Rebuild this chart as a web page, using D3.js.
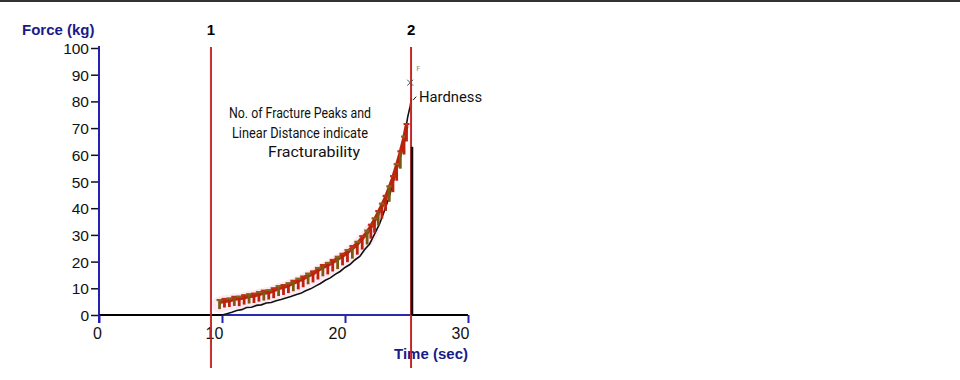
<!DOCTYPE html>
<html>
<head>
  <meta charset="utf-8">
  <script src="https://cdn.jsdelivr.net/npm/d3@7"></script>
  <style>
body { margin: 0; background: #fff; }
svg { display: block; }
.tick-label { font: 15.5px "Liberation Sans", Arial, sans-serif; fill: #111; }
.axis-title { font: bold 15px "Liberation Sans", Arial, sans-serif; fill: #1a1a8a; }
.marker-label { font: bold 15px "Liberation Sans", Arial, sans-serif; fill: #000; }
.note { font: 15px Roboto, Lato, sans-serif; fill: #111; }
  </style>
</head>
<body>
<svg width="960" height="380"></svg>
<script>

// force trace (black line)
const curveTime  = [10.0,10.4,10.8,11.2,11.6,12.0,12.4,12.8,13.2,13.6,14.0,14.4,14.8,15.2,15.6,16.0,16.4,16.8,17.2,17.6,18.0,18.4,18.8,19.2,19.6,20.0,20.4,20.8,21.2,21.6,22.0,22.4,22.8,23.2,23.6,24.0,24.3,24.6,24.9,25.1,25.3,25.4];
const curveForce = [0,0.5,1.0,1.7,2.0,2.8,2.9,3.6,3.8,4.5,4.7,5.3,5.8,6.4,6.9,7.6,8.1,9.1,9.8,10.8,11.8,13.0,13.9,15.2,16.3,17.8,18.9,20.6,21.9,24.5,26.6,30.3,34.0,39.0,44.3,51.3,56.2,62.7,68.7,74.2,78.2,81.0];

// fracture peaks (top of each peak and the force it drops to)
const peakTime  = [9.8,10.2,10.6,11.0,11.4,11.8,12.2,12.6,13.0,13.4,13.8,14.2,14.6,15.0,15.4,15.8,16.2,16.6,17.0,17.4,17.8,18.2,18.6,19.0,19.4,19.8,20.2,20.6,21.0,21.4,21.8,22.1,22.4,22.7,23.0,23.3,23.6,23.9,24.2,24.5,24.8,25.0];
const peakForce = [5.6,6.0,6.2,6.8,6.9,7.4,7.8,8.0,8.6,9.1,9.3,10.0,10.8,11.2,11.9,12.8,13.6,14.4,15.5,16.3,17.6,18.7,19.5,20.6,21.8,22.9,24.3,25.8,27.4,29.5,31.6,33.8,36.2,38.9,41.7,44.6,48.2,52.0,56.5,61.3,66.8,71.5];
const peakLow   = [2.2,2.8,3.0,3.4,3.3,3.9,4.3,4.5,5.0,5.4,5.8,6.3,7.1,7.5,8.2,8.9,9.6,10.4,11.5,12.2,13.3,14.5,15.2,16.3,17.2,18.6,19.8,21.1,22.6,24.5,26.4,28.6,30.8,33.5,36.1,39.0,42.4,46.0,50.3,54.8,60.1,65.0];

// drop after the hardness peak
const dropTime  = [25.45, 25.45];
const dropForce = [63, 0];

// hardness peak
const hardTime = 25.3, hardForce = 87;

// vertical markers
const markerTime  = [9.1, 25.37];
const markerLabel = ["1", "2"];

const xTicks = [0, 10, 20, 30];
const yTicks = [0, 10, 20, 30, 40, 50, 60, 70, 80, 90, 100];

const noteLines = ["No. of Fracture Peaks and", "Linear Distance indicate", "Fracturability"];

var svg = d3.select("svg");

var x = d3.scaleLinear().domain([0, 30]).range([99, 468]);
var y = d3.scaleLinear().domain([0, 100]).range([315, 48]);

// top border
svg.append("rect").attr("x", 0).attr("y", 0).attr("width", 960).attr("height", 2).attr("fill", "#333");

// y axis
var yAxis = svg.append("g")
  .attr("transform", "translate(99,0)")
  .call(d3.axisLeft(y).tickValues(yTicks).tickSize(8).tickPadding(2));
yAxis.select(".domain").remove();
yAxis.selectAll(".tick line").attr("stroke", "#111").attr("stroke-width", 1.5);
yAxis.selectAll(".tick text").attr("class", "tick-label").attr("dy", "0.36em");
svg.append("line")
  .attr("x1", 99).attr("x2", 99).attr("y1", 46).attr("y2", 323)
  .attr("stroke", "#2222b0").attr("stroke-width", 2);

// x axis
svg.append("line")
  .attr("x1", x(0)).attr("x2", x(30)).attr("y1", y(0)).attr("y2", y(0))
  .attr("stroke", "#000").attr("stroke-width", 2);
svg.append("line")
  .attr("x1", x(10)).attr("x2", x(markerTime[1])).attr("y1", y(0)).attr("y2", y(0))
  .attr("stroke", "#2a2ab0").attr("stroke-width", 2);
var xAxis = svg.append("g")
  .attr("transform", "translate(0," + y(0) + ")")
  .call(d3.axisBottom(x).tickValues(xTicks).tickSize(8).tickPadding(5));
xAxis.select(".domain").remove();
xAxis.selectAll(".tick line").attr("stroke", "#2222b0").attr("stroke-width", 2);
xAxis.selectAll(".tick text")
  .attr("class", "tick-label")
  .attr("dx", d => d === 0 ? -2 : -8)
  .style("font-size", "16px");

// axis titles
svg.append("text").attr("class", "axis-title").attr("x", 22).attr("y", 35).text("Force (kg)");
svg.append("text").attr("class", "axis-title").attr("x", 468).attr("y", 359)
  .attr("text-anchor", "end").text("Time (sec)");

// pink haze behind the fracture band
var peakPts = peakTime.map((t, i) => [t, peakForce[i], peakLow[i]]);
svg.append("path")
  .datum(peakPts.slice(0, 32))
  .attr("fill", "none")
  .attr("stroke", "#fbdcee")
  .attr("stroke-width", 16)
  .attr("stroke-linecap", "round")
  .attr("opacity", 0.6)
  .attr("d", d3.line().x(d => x(d[0])).y(d => y((d[1] + d[2]) / 2)));

// black force trace
var curvePts = curveTime.map((t, i) => [t, curveForce[i]]);
svg.append("path")
  .datum(curvePts)
  .attr("fill", "none")
  .attr("stroke", "#111")
  .attr("stroke-width", 1.6)
  .attr("d", d3.line().x(d => x(d[0])).y(d => y(d[1])));

// fracture peak band
svg.append("path")
  .datum(peakPts)
  .attr("fill", "none")
  .attr("stroke", "#b8260f")
  .attr("stroke-width", 4)
  .attr("d", d3.line().x(d => x(d[0])).y(d => y(d[1]) + 2));

var spikes = svg.append("g").selectAll("g")
  .data(peakPts)
  .enter().append("g");
spikes.append("line")
  .attr("x1", d => x(d[0])).attr("x2", d => x(d[0]))
  .attr("y1", d => y(d[1])).attr("y2", d => y(d[2]))
  .attr("stroke", (d, i) => i % 3 === 0 ? "#7a5a12" : "#b8230e")
  .attr("stroke-width", 2.8);
spikes.append("line")
  .attr("x1", d => x(d[0]) - 3).attr("x2", d => x(d[0]) + 3)
  .attr("y1", d => y(d[1])).attr("y2", d => y(d[1]))
  .attr("stroke", (d, i) => i % 2 === 0 ? "#85651a" : "#c0300f")
  .attr("stroke-width", 2.2);

// vertical markers
markerTime.forEach((t, i) => {
  svg.append("line")
    .attr("x1", x(t) - 0.5).attr("x2", x(t) - 0.5).attr("y1", 47).attr("y2", 368)
    .attr("stroke", "#cc2a2a").attr("stroke-width", 1);
  svg.append("line")
    .attr("x1", x(t) + 0.5).attr("x2", x(t) + 0.5).attr("y1", 47).attr("y2", 368)
    .attr("stroke", "#6e442a").attr("stroke-width", 1);
  svg.append("text").attr("class", "marker-label")
    .attr("x", x(t)).attr("y", 35).attr("text-anchor", "middle").text(markerLabel[i]);
});

// drop segment over marker 2
svg.append("path")
  .datum(dropTime.map((t, i) => [t, dropForce[i]]))
  .attr("fill", "none")
  .attr("stroke", "#111")
  .attr("stroke-width", 2.5)
  .attr("d", d3.line().x(d => x(d[0])).y(d => y(d[1])));

// hardness peak mark
var hx = x(hardTime), hy = y(hardForce);
svg.append("path")
  .attr("d", `M${hx - 3},${hy - 3}L${hx + 3},${hy + 3}M${hx + 3},${hy - 3}L${hx - 3},${hy + 3}`)
  .attr("stroke", "#555").attr("stroke-width", 1);
svg.append("text").attr("x", hx + 6).attr("y", hy - 12)
  .attr("font-family", "DejaVu Sans").attr("font-size", 7).attr("fill", "#888").text("F");
svg.append("line")
  .attr("x1", hx + 3).attr("x2", hx + 6).attr("y1", y(80.5)).attr("y2", y(81.8))
  .attr("stroke", "#111").attr("stroke-width", 1);
svg.append("text").attr("class", "note").attr("x", 419).attr("y", 102)
  .attr("textLength", 63).attr("lengthAdjust", "spacingAndGlyphs").text("Hardness");

// annotation
var noteWidth = [142, 136, 92];
noteLines.forEach((s, i) => {
  svg.append("text").attr("class", "note")
    .attr("x", i === 2 ? 314 : 300).attr("y", 118 + i * 19.5)
    .attr("text-anchor", "middle")
    .attr("textLength", noteWidth[i]).attr("lengthAdjust", "spacingAndGlyphs")
    .text(s);
});

</script>
</body>
</html>
